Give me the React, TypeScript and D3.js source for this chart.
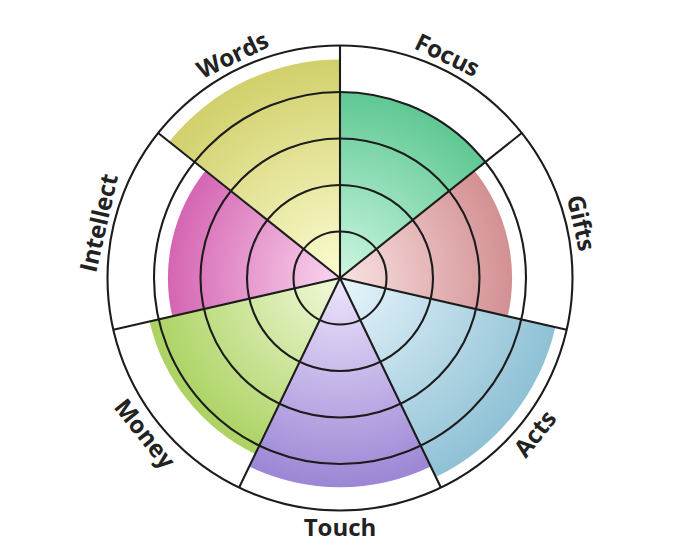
import { useEffect, useRef } from 'react';
import * as d3 from 'd3';

const categories = ['Focus', 'Gifts', 'Acts', 'Touch', 'Money', 'Intellect', 'Words'];
const values = [4.0, 3.7, 4.75, 4.5, 4.2, 3.7, 4.7];
const innerColors = ['#cdf7e2', '#f9e2e2', '#e8f5fc', '#eee6fc', '#f2f9da', '#fad6ef', '#fcfcd2'];
const outerColors = ['#5fc893', '#d39093', '#8fc1d5', '#9c86d5', '#abd262', '#d565b2', '#d1d06b'];
const ringLevels = [1, 2, 3, 4, 5];

const W = 680;
const H = 557;
const cx = 340;
const cy = 278;
const maxR = 232.5;

const App = () => {
  const svgRef = useRef<SVGSVGElement>(null);

  useEffect(() => {
    if (!svgRef.current) return;
    const svg = d3.select(svgRef.current);
    svg.selectAll('*').remove();

    const r = d3.scaleLinear().domain([0, 5]).range([0, maxR]);
    const step = (2 * Math.PI) / categories.length;

    const defs = svg.append('defs');
    categories.forEach((c, i) => {
      const g = defs.append('radialGradient')
        .attr('id', `grad-${i}`)
        .attr('gradientUnits', 'userSpaceOnUse')
        .attr('cx', 0).attr('cy', 0)
        .attr('r', r(values[i]));
      g.append('stop').attr('offset', '0%').attr('stop-color', innerColors[i]);
      g.append('stop').attr('offset', '100%').attr('stop-color', outerColors[i]);
    });

    const root = svg.append('g').attr('transform', `translate(${cx},${cy})`);

    const arc = d3.arc<any>()
      .innerRadius(0)
      .outerRadius((d: any) => r(d.value))
      .startAngle((d: any) => d.i * step)
      .endAngle((d: any) => (d.i + 1) * step);

    root.selectAll('path.sector')
      .data(values.map((v, i) => ({ value: v, i })))
      .enter().append('path')
      .attr('class', 'sector')
      .attr('d', arc)
      .attr('fill', (d: any) => `url(#grad-${d.i})`);

    root.selectAll('circle.ring')
      .data(ringLevels)
      .enter().append('circle')
      .attr('class', 'ring')
      .attr('r', (d) => r(d))
      .attr('fill', 'none')
      .attr('stroke', '#1c1c1c')
      .attr('stroke-width', 2.1);

    root.selectAll('line.spoke')
      .data(categories.map((_, i) => i * step))
      .enter().append('line')
      .attr('class', 'spoke')
      .attr('x1', 0).attr('y1', 0)
      .attr('x2', (a) => r(5) * Math.sin(a))
      .attr('y2', (a) => -r(5) * Math.cos(a))
      .attr('stroke', '#1c1c1c')
      .attr('stroke-width', 2.1);

    const labelR = maxR + 16;
    root.selectAll('text.label')
      .data(categories)
      .enter().append('text')
      .attr('class', 'label')
      .attr('transform', (_, i) => {
        const a = (i + 0.5) * step;
        const deg = (a * 180) / Math.PI;
        const rot = deg > 90 && deg < 270 ? deg - 180 : deg;
        return `translate(${labelR * Math.sin(a)},${-labelR * Math.cos(a)}) rotate(${rot})`;
      })
      .attr('text-anchor', 'middle')
      .attr('dominant-baseline', 'central')
      .style('font-family', '"Open Sans", sans-serif')
      .style('font-weight', 700)
      .style('font-size', '24px')
      .style('fill', '#222')
      .text((d) => d);
  }, []);

  return (
    <svg ref={svgRef} width={W} height={H} style={{ position: 'absolute', left: 0, top: 0, background: '#fff' }} />
  );
};

export default App;
